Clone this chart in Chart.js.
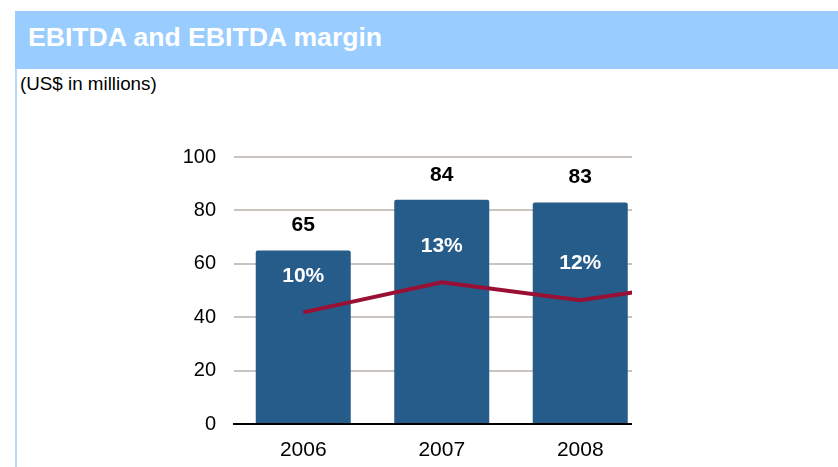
<!DOCTYPE html>
<html>
<head>
<meta charset="utf-8">
<script src="https://cdn.jsdelivr.net/npm/chart.js@4"></script>
<style>
    body { margin: 0; background: #fff; font-family: "Liberation Sans", Arial, sans-serif; }
    .frame { position: absolute; left: 0; top: 0; width: 838px; height: 467px; overflow: hidden; }
    .band { position: absolute; left: 15px; top: 11px; width: 823px; height: 58px; background: #99ccff; }
    .band h1 { margin: 0; padding-left: 13px; line-height: 52px; font-size: 26.6px; font-weight: bold; color: #fff; }
    .edge { position: absolute; left: 15px; top: 69px; width: 2px; height: 400px; background: #b3d9ff; }
    .unit { position: absolute; left: 20px; top: 75px; font-size: 18.8px; line-height: 18px; color: #000; }
    #chart { position: absolute; left: 0; top: 100px; }
</style>
</head>
<body>
<div class="frame">
    <div class="band"><h1>EBITDA and EBITDA margin</h1></div>
    <div class="edge"></div>
    <div class="unit">(US$ in millions)</div>
    <canvas id="chart" width="838" height="367"></canvas>
</div>
<script>
const years = ['2006', '2007', '2008'];
const ebitda = [65, 84, 83];
// margin line, in percent (last point runs off the right edge of the plot)
const margin = [10.45, 13.27, 11.6, 13.5];
const marginLabels = ['10%', '13%', '12%'];
const yTicks = [0, 20, 40, 60, 80, 100];

const FONT = '"Liberation Sans", Arial, sans-serif';
// where the plot is cut off, in category units (2 = centre of 2008)
const PLOT_END = 2.375;

// value on top of each bar, margin text above each line point
const labelPlugin = {
    id: 'labels',
    afterDatasetsDraw(chart) {
        const ctx = chart.ctx;
        ctx.save();
        ctx.textAlign = 'center';
        ctx.textBaseline = 'middle';
        ctx.font = 'bold 21px ' + FONT;

        ctx.fillStyle = '#000';
        chart.getDatasetMeta(0).data.forEach((bar, i) => {
            ctx.fillText(String(ebitda[i]), bar.x, bar.y - 25);
        });

        ctx.fillStyle = '#fff';
        chart.getDatasetMeta(1).data.forEach((pt, i) => {
            if (marginLabels[i]) ctx.fillText(marginLabels[i], pt.x, pt.y - 36.5);
        });
        ctx.restore();
    }
};

// grid, baseline and line stop a little past the last bar
const trimPlugin = {
    id: 'trim',
    afterDraw(chart) {
        const a = chart.chartArea;
        const cut = Math.round(chart.scales.x.getPixelForValue(PLOT_END));
        const ctx = chart.ctx;
        ctx.save();
        ctx.fillStyle = '#fff';
        ctx.fillRect(cut, a.top - 4, chart.width - cut, a.bottom - a.top + 8);
        ctx.restore();
    }
};

new Chart(document.getElementById('chart').getContext('2d'), {
    type: 'bar',
    data: {
        // extra empty slot so the margin line can run on past 2008
        labels: [...years, ''],
        datasets: [{
            type: 'bar',
            data: ebitda,
            backgroundColor: '#265c8a',
            borderRadius: 2,
            borderSkipped: 'bottom',
            categoryPercentage: 1,
            barPercentage: 0.686,
            order: 2
        }, {
            type: 'line',
            data: margin,
            yAxisID: 'y2',
            borderColor: '#9a0f34',
            borderWidth: 4,
            pointRadius: 0,
            tension: 0,
            order: 1
        }]
    },
    options: {
        responsive: false,
        animation: false,
        layout: { padding: { left: 0, top: 57, right: 50, bottom: 0 } },
        plugins: { legend: { display: false }, tooltip: { enabled: false } },
        scales: {
            x: {
                offset: true,
                grid: { display: false, drawTicks: false },
                border: { display: true, color: '#000', width: 2 },
                ticks: { color: '#000', padding: 14, font: { family: FONT, size: 21 } },
                afterFit(scale) { scale.height = 43; }
            },
            y: {
                min: 0,
                max: 100,
                afterBuildTicks(scale) { scale.ticks = yTicks.map(v => ({ value: v })); },
                grid: { color: '#c9c4be', lineWidth: 2, drawTicks: false },
                border: { display: false },
                ticks: { color: '#000', padding: 18, font: { family: FONT, size: 20 } },
                afterFit(scale) { scale.width = 234; }
            },
            y2: {
                display: false,
                min: 0,
                max: 25
            }
        }
    },
    plugins: [labelPlugin, trimPlugin]
});
</script>
</body>
</html>
